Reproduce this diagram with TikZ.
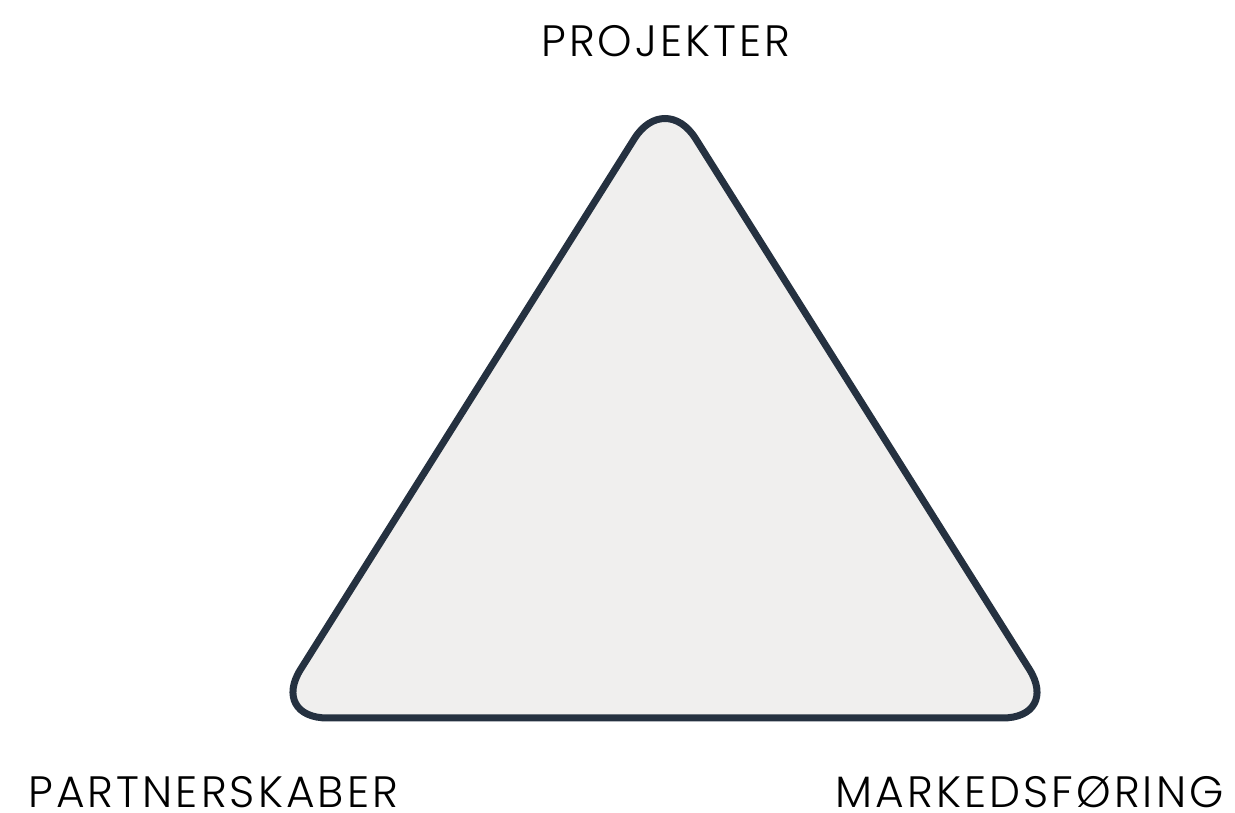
\documentclass[tikz,border=0pt]{standalone}
\usepackage{fontspec}
\setmainfont{Poppins}[UprightFont=* Light,LetterSpace=7]
\usepackage{xcolor}
\definecolor{trifill}{HTML}{F0EFEE}
\definecolor{triline}{HTML}{253140}

\begin{document}
\begin{tikzpicture}[x=0.02cm,y=-0.02cm]
			\useasboundingbox (0,0) rectangle (1235,813);
			\tikzset{
				label/.style={font=\fontsize{25}{29}\selectfont,inner sep=0pt,text depth=0pt,text=black},
				tri/.style={fill=trifill,draw=triline,line width=1.4mm,rounded corners=1.15cm}
			}
			% corners of the triangle
			\coordinate (apex) at (665,90);
			\coordinate (bleft) at (270,718);
			\coordinate (bright) at (1060,718);
			\coordinate (bmid) at (665,718);
			\draw[tri] (bmid) -- (bleft) -- (apex) -- (bright) -- cycle;
			% labels
			\node[label,anchor=base] (projekter) at (666,57) {PROJEKTER};
			\node[label,anchor=base west] (partner) at (28,808) {PARTNERSKABER};
			\node[label,anchor=base east] (marked) at (1224,808) {MARKEDSFØRING};
		\end{tikzpicture}
\end{document}
